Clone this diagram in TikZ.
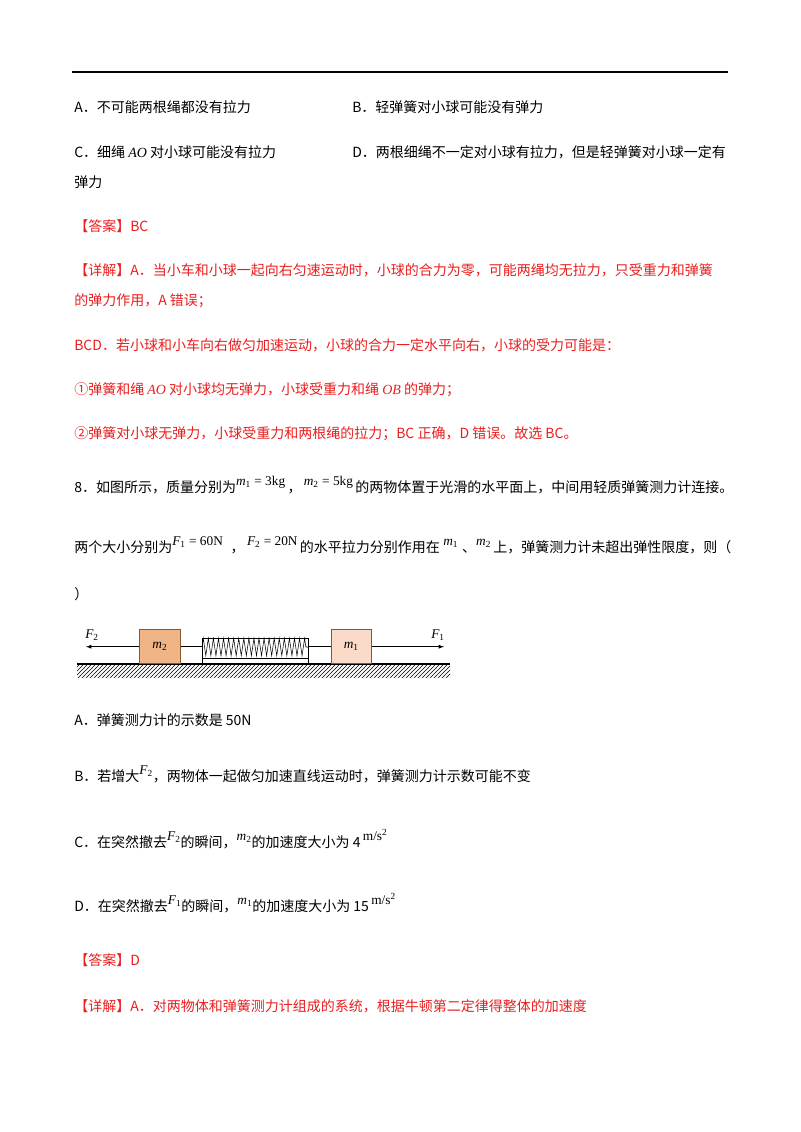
\documentclass[tikz,border=0pt]{standalone}
\usepackage{fontspec}
\setmainfont{Noto Sans CJK SC}
\newfontfamily\mathfont{Liberation Serif}
\usetikzlibrary{patterns,decorations.pathmorphing}
\definecolor{ans}{RGB}{235,30,30}
\newcommand{\rf}[1]{\raisebox{5pt}{\mathfont\fontsize{10}{10}\selectfont #1}}
\newcommand{\mi}[1]{{\mathfont\itshape #1}}
\begin{document}
\begin{tikzpicture}[x=0.75pt,y=-0.75pt,
  tl/.style={anchor=base west,inner sep=0pt,font=\fontsize{10.5}{12}\selectfont},
  red/.style={tl,text=ans}]
\useasboundingbox[fill=white] (0,0) rectangle (800,1132);
\draw[line width=1.2pt] (72,72) -- (728,72);
\node[tl] (a1) at (74,112) {A．不可能两根绳都没有拉力};
\node[tl] (b1) at (352,112) {B．轻弹簧对小球可能没有弹力};
\node[tl] (c1) at (74,157) {C．细绳 \mi{AO} 对小球可能没有拉力};
\node[tl] (d1) at (352,157) {D．两根细绳不一定对小球有拉力，但是轻弹簧对小球一定有};
\node[tl] (e1) at (74,187) {弹力};
\node[red] (ans1) at (74,231) {【答案】BC};
\node[red] (x1) at (74,275) {【详解】A．当小车和小球一起向右匀速运动时，小球的合力为零，可能两绳均无拉力，只受重力和弹簧};
\node[red] (x2) at (74,305) {的弹力作用，A 错误；};
\node[red] (x3) at (74,350) {BCD．若小球和小车向右做匀加速运动，小球的合力一定水平向右，小球的受力可能是：};
\node[red] (x4) at (74,394) {①弹簧和绳 \mi{AO} 对小球均无弹力，小球受重力和绳 \mi{OB} 的弹力；};
\node[red] (x5) at (74,438) {②弹簧对小球无弹力，小球受重力和两根绳的拉力；BC 正确，D 错误。故选 BC。};
\node[tl] (q1) at (74,492) {8．如图所示，质量分别为\rf{\itshape m\textsubscript{\upshape 1}\upshape\ = 3kg}\,，\,\rf{\itshape m\textsubscript{\upshape 2}\upshape\ = 5kg}\,的两物体置于光滑的水平面上，中间用轻质弹簧测力计连接。};
\node[tl] (q2) at (74,552) {两个大小分别为\rf{\itshape F\textsubscript{\upshape 1}\upshape\ = 60N}\;\;，\,\rf{\itshape F\textsubscript{\upshape 2}\upshape\ = 20N}\,的水平拉力分别作用在\rf{\itshape\ m\textsubscript{\upshape 1}}\;、\rf{\itshape m\textsubscript{\upshape 2}}\,上，弹簧测力计未超出弹性限度，则（};
\node[tl] (q3) at (74,599) {）};
% figure
\fill[pattern=north east lines] (77,664) rectangle (450,677);
\draw[thick] (77,664) -- (450,664);
\node[draw=brown!70!black,fill={rgb,255:red,240;green,180;blue,135},minimum width=31pt,minimum height=25.5pt,inner sep=0pt,anchor=south west] (m2) at (139,664) {\mi{m}\textsubscript{\mathfont 2}};
\node[draw=brown!70!black,fill={rgb,255:red,250;green,218;blue,200},minimum width=30pt,minimum height=25.5pt,inner sep=0pt,anchor=south west] (m1) at (331,664) {\mi{m}\textsubscript{\mathfont 1}};
\coordinate (sL) at (202,647); \coordinate (sR) at (308,647);
\draw (m2.east) -- (m2.east -| sL); \draw (m1.west -| sR) -- (m1.west);
\draw (202,664) -- (202,638) -- (308,638) -- (308,664);
\draw (202,658) -- (308,658);
\draw[decoration={zigzag,segment length=3.8pt,amplitude=6.5pt},decorate] (202,647) -- (308,647);
\coordinate (fl) at (86,648); \coordinate (fr) at (444,648);
\draw[-latex] (m2.west) -- (m2.west -| fl);
\draw[-latex] (m1.east) -- (m1.east -| fr);
\node[inner sep=0pt] (F2) at (92,635) {\mi{F}\textsubscript{\mathfont 2}};
\node[inner sep=0pt] (F1) at (438,635) {\mi{F}\textsubscript{\mathfont 1}};
% options
\node[tl] (oa) at (74,725) {A．弹簧测力计的示数是 50N};
\node[tl] (ob) at (74,781) {B．若增大\rf{\itshape F\textsubscript{\upshape 2}}，两物体一起做匀加速直线运动时，弹簧测力计示数可能不变};
\node[tl] (oc) at (74,847) {C．在突然撤去\rf{\itshape F\textsubscript{\upshape 2}}的瞬间，\rf{\itshape m\textsubscript{\upshape 2}}的加速度大小为 4\,\rf{m/s\textsuperscript{2}}};
\node[tl] (od) at (74,911) {D．在突然撤去\rf{\itshape F\textsubscript{\upshape 1}}的瞬间，\rf{\itshape m\textsubscript{\upshape 1}}的加速度大小为 15\,\rf{m/s\textsuperscript{2}}};
\node[red] (ans2) at (74,965) {【答案】D};
\node[red] (y1) at (74,1011) {【详解】A．对两物体和弹簧测力计组成的系统，根据牛顿第二定律得整体的加速度};
\end{tikzpicture}
\end{document}
